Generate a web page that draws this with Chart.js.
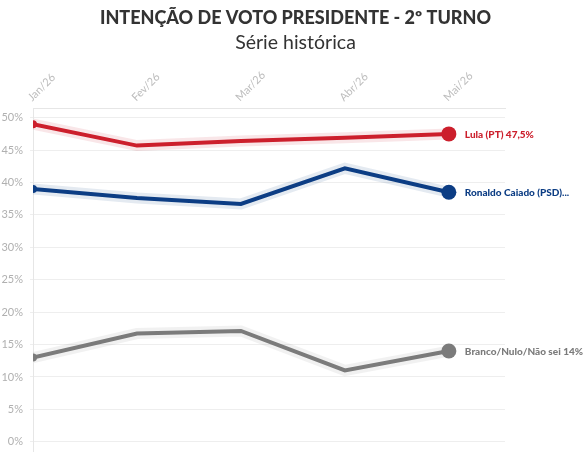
<!DOCTYPE html>
<html>
<head>
<meta charset="utf-8">
<script src="https://cdn.jsdelivr.net/npm/chart.js@4"></script>
<style>
html,body{margin:0;padding:0;background:#fff;}
#wrap{width:587px;height:459px;}
</style>
</head>
<body>
<div id="wrap"><canvas id="c" width="587" height="459"></canvas></div>
<script>
const months = ["Jan/26", "Fev/26", "Mar/26", "Abr/26", "Mai/26"];
const lula = [49.0, 45.7, 46.4, 46.9, 47.5];
const caiado = [39.0, 37.6, 36.7, 42.2, 38.5];
const branco = [13.0, 16.7, 17.1, 11.0, 14.0];
const endLabels = ["Lula (PT) 47,5%", "Ronaldo Caiado (PSD)...", "Branco/Nulo/Não sei 14%"];
const yTicks = [0, 5, 10, 15, 20, 25, 30, 35, 40, 45, 50];
const titleText = "INTENÇÃO DE VOTO PRESIDENTE - 2º TURNO";
const subtitleText = "Série histórica";
const colors = ["#cc1f2c", "#0c3d84", "#7b7b7b"];
const halos = ["rgba(204,31,44,0.11)", "rgba(12,61,132,0.11)", "rgba(123,123,123,0.11)"];
const series = [lula, caiado, branco];
const FONT = "Lato, 'Open Sans', sans-serif";

function pts(arr){ return arr.map((v,i)=>({x:i,y:v})); }

const datasets = [];
series.forEach((s,k)=>{
  datasets.push({data: pts(s), borderColor: halos[k], borderWidth: 11, pointRadius: 0, tension: 0, order: 2});
});
series.forEach((s,k)=>{
  datasets.push({data: pts(s), borderColor: colors[k], backgroundColor: colors[k], borderWidth: 4,
    pointRadius: s.map((v,i)=> i===0 ? 4 : (i===s.length-1 ? 7.5 : 0)), pointBorderWidth: 0,
    tension: 0, order: 1, labelIdx: k});
});

const endLabelPlugin = {
  id: 'endLabels',
  afterDatasetsDraw(chart){
    const ctx = chart.ctx;
    chart.data.datasets.forEach((ds,i)=>{
      if (ds.labelIdx === undefined) return;
      const meta = chart.getDatasetMeta(i);
      const p = meta.data[meta.data.length-1];
      ctx.save();
      ctx.font = "900 10px " + FONT;
      ctx.fillStyle = colors[ds.labelIdx];
      ctx.textBaseline = 'middle';
      ctx.textAlign = 'left';
      ctx.fillText(endLabels[ds.labelIdx], p.x + 16, p.y + 0.5);
      ctx.restore();
    });
  }
};

const titlePlugin = {
  id: 'titles',
  afterDraw(chart){
    const ctx = chart.ctx;
    const cx = chart.width / 2 + 2;
    ctx.save();
    ctx.textAlign = 'center';
    ctx.textBaseline = 'middle';
    ctx.fillStyle = "#333333";
    ctx.font = "900 18px " + FONT;
    ctx.fillText(titleText, cx, 18);
    ctx.font = "normal 19.5px " + FONT;
    ctx.fillText(subtitleText, cx, 43);
    ctx.restore();
  }
};

new Chart(document.getElementById('c'), {
  type: 'line',
  data: { datasets },
  plugins: [endLabelPlugin, titlePlugin],
  options: {
    responsive: false,
    animation: false,
    devicePixelRatio: 1,
    layout: { padding: { left: 0, right: 82, top: 54.4, bottom: 7 } },
    plugins: {
      legend: { display: false },
      tooltip: { enabled: false },
      title: { display: false },
      subtitle: { display: false }
    },
    scales: {
      x: {
        type: 'linear', position: 'top', min: 0, max: 4.54,
        afterFit(scale){ scale.height = 53.6; scale.paddingLeft = 0; scale.paddingRight = 0; },
        grid: { display: false, drawTicks: false },
        border: { display: true, color: "#e6e6e6" },
        ticks: { stepSize: 1, includeBounds: false, autoSkip: false, maxRotation: 45, minRotation: 45, padding: 4,
          labelOffset: 6, color: "#bdbdbd", font: { family: FONT, size: 11 },
          callback: (v)=> months[v] !== undefined ? months[v] : '' }
      },
      y: {
        min: -1.5, max: 51.5,
        afterFit(scale){ scale.width = 33; scale.paddingTop = 0; scale.paddingBottom = 0; },
        afterBuildTicks(scale){ scale.ticks = yTicks.map(v=>({value:v})); },
        grid: { color: "#eeeeee", tickLength: 3 },
        border: { display: true, color: "#e6e6e6" },
        ticks: { padding: 7, color: "#b0b0b0", font: { family: FONT, size: 11 },
          callback: (v)=> v + "%" }
      }
    }
  }
});
</script>
</body>
</html>
